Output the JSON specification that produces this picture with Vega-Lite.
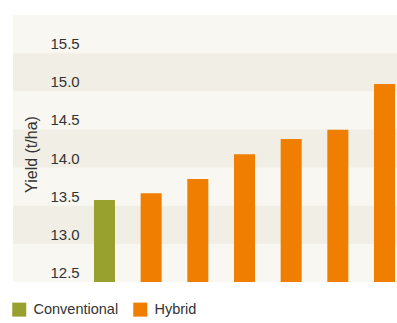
{
  "$schema": "https://vega.github.io/schema/vega-lite/v6.json",
  "width": 384,
  "height": 267,
  "autosize": {"type": "none"},
  "padding": {"left": 13, "top": 15, "right": 0, "bottom": 41},
  "config": {
    "view": {"stroke": null, "fill": "#f8f7f2"},
    "font": "Liberation Sans",
    "text": {"font": "Liberation Sans"}
  },
  "datasets": {
    "bands": [
      {"lo": 12.875, "hi": 13.375},
      {"lo": 13.875, "hi": 14.375},
      {"lo": 14.875, "hi": 15.375}
    ],
    "yields": [
      {"variety": "Conventional", "type": "Conventional", "yield": 13.45},
      {"variety": "Hybrid A", "type": "Hybrid", "yield": 13.54},
      {"variety": "Hybrid B", "type": "Hybrid", "yield": 13.725},
      {"variety": "Hybrid C", "type": "Hybrid", "yield": 14.05},
      {"variety": "Hybrid D", "type": "Hybrid", "yield": 14.25},
      {"variety": "Hybrid E", "type": "Hybrid", "yield": 14.37},
      {"variety": "Hybrid F", "type": "Hybrid", "yield": 14.97}
    ]
  },
  "layer": [
    {
      "data": {"name": "bands"},
      "mark": {"type": "rect", "color": "#f1eee6"},
      "encoding": {
        "y": {
          "field": "lo",
          "type": "quantitative",
          "scale": {"domain": [12.375, 15.875], "zero": false, "nice": false},
          "axis": {
            "zindex": 1,
            "values": [12.5, 13, 13.5, 14, 14.5, 15, 15.5],
            "format": ".1f",
            "domain": false,
            "ticks": false,
            "tickSize": 0,
            "grid": false,
            "labelOverlap": false,
            "labelAlign": "left",
            "labelBaseline": "middle",
            "labelPadding": -37,
            "labelFont": "Liberation Sans",
            "labelFontSize": 15,
            "labelColor": "#333333",
            "title": "Yield (t/ha)",
            "titleFont": "Liberation Sans",
            "titleFontSize": 16,
            "titleFontWeight": "normal",
            "titleColor": "#333333",
            "titleAngle": 270,
            "titleBaseline": "middle",
            "titleAlign": "center",
            "titleX": 18,
            "titleY": 139
          }
        },
        "y2": {"field": "hi"}
      }
    },
    {
      "data": {"name": "yields"},
      "mark": {"type": "bar"},
      "encoding": {
        "x": {
          "field": "variety",
          "type": "nominal",
          "sort": null,
          "scale": {"paddingInner": 0.55, "paddingOuter": 0.889, "align": 0.976},
          "axis": null
        },
        "y": {"field": "yield", "type": "quantitative"},
        "y2": {"datum": 12.375},
        "color": {
          "field": "type",
          "type": "nominal",
          "scale": {"domain": ["Conventional", "Hybrid"], "range": ["#98a02e", "#f07e00"]},
          "legend": {
            "title": null,
            "orient": "none",
            "legendX": -1,
            "legendY": 287,
            "direction": "horizontal",
            "padding": 0,
            "symbolType": "square",
            "symbolSize": 196,
            "symbolStrokeWidth": 0,
            "symbolOpacity": 1,
            "labelOffset": 7,
            "columnPadding": 14,
            "labelFont": "Liberation Sans",
            "labelFontSize": 14.5,
            "labelColor": "#333333"
          }
        }
      }
    }
  ]
}
